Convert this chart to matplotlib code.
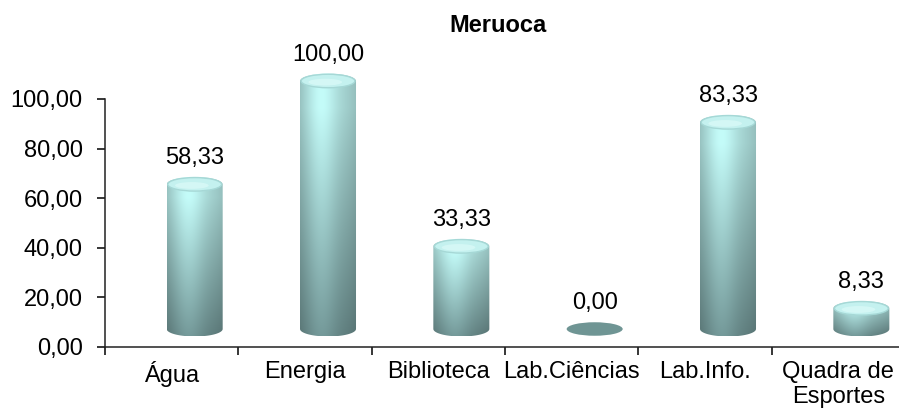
import numpy as np
import matplotlib
matplotlib.use('Agg')
import matplotlib.pyplot as plt
from matplotlib.patches import Ellipse, PathPatch
from matplotlib.path import Path

plt.rcParams['font.family'] = ['Liberation Sans', 'DejaVu Sans']

title = 'Meruoca'
categories = ['Água', 'Energia', 'Biblioteca', 'Lab.Ciências', 'Lab.Info.', 'Quadra de\nEsportes']
values = [58.33, 100.00, 33.33, 0.00, 83.33, 8.33]
yticks = [0, 20, 40, 60, 80, 100]

W, H = 899, 412
fig = plt.figure(figsize=(W / 100, H / 100), dpi=100)

# axis origin at (105, 347) px, 100 at y=99 px, category width 133.3 px
px_per_unit = (347 - 99) / 100.0
ax = fig.add_axes([105 / W, (H - 347) / H, 800 / W, 347 / H])
ax.set_xlim(0, 6)
ax.set_ylim(0, 347 / px_per_unit)

# 3d look: bars shifted back/right, ellipse caps
dx = 23 / 133.3
dy = 18 / px_per_unit
rx = 28 / 133.3
ry = 7.5 / px_per_unit

top_col = np.array([0.74, 0.95, 0.94])
bot_col = np.array([0.44, 0.58, 0.58])


def shade_body(nx=60, ny=200):
    u = np.linspace(-1, 1, nx)
    v = np.linspace(0, 1, ny)[:, None]  # 0 bottom -> 1 top
    base = bot_col + (top_col - bot_col) * np.clip(v * 1.15, 0, 1)[..., None]
    hl = 0.86 + 0.18 * np.exp(-((u + 0.25) / 0.55) ** 2) - 0.08 * np.abs(u) ** 3
    img = base * hl[None, :, None]
    return np.clip(img, 0, 1)


for i, val in enumerate(values):
    cx = i + 0.5 + dx
    y0 = dy
    y1 = dy + val
    if val <= 0:
        ax.add_patch(Ellipse((cx, y0), 2 * rx, 2 * ry * 0.9, facecolor='#6f9594',
                             edgecolor='none', zorder=3))
    else:
        t1 = np.linspace(0, np.pi, 40)
        t2 = np.linspace(np.pi, 2 * np.pi, 40)
        verts = np.concatenate([
            np.column_stack([cx + rx * np.cos(t1), y1 + ry * np.sin(t1)]),
            np.column_stack([cx + rx * np.cos(t2), y0 + ry * np.sin(t2)]),
        ])
        verts = np.vstack([verts, verts[:1]])
        path = Path(verts, closed=True)
        patch = PathPatch(path, facecolor='none', edgecolor='none')
        ax.add_patch(patch)
        im = ax.imshow(shade_body(), origin='lower', aspect='auto',
                       extent=[cx - rx, cx + rx, y0 - ry, y1 + ry],
                       zorder=3, interpolation='bilinear')
        im.set_clip_path(patch)
        # top cap
        ax.add_patch(Ellipse((cx, y1), 2 * rx * 0.96, 2 * ry * 0.9,
                             facecolor='#c4f1ef', edgecolor='#a6d8d6',
                             linewidth=1.0, zorder=4))
        ax.add_patch(Ellipse((cx - rx * 0.1, y1 - ry * 0.15), 2 * rx * 0.6, 2 * ry * 0.45,
                             facecolor='#dcfaf8', edgecolor='none', alpha=0.7, zorder=4))

    label = '{:.2f}'.format(val).replace('.', ',')
    ax.annotate(label, (cx, y1), xytext=(0, 19), textcoords='offset points',
                ha='center', va='center', fontsize=17, annotation_clip=False)

# axes styling
for s in ['top', 'right']:
    ax.spines[s].set_visible(False)
ax.spines['left'].set_bounds(0, 100)
ax.spines['left'].set_linewidth(1.1)
ax.spines['bottom'].set_linewidth(1.1)
ax.spines['left'].set_color('#222222')
ax.spines['bottom'].set_color('#222222')

ax.set_yticks(yticks)
ax.set_yticklabels(['{:.2f}'.format(t).replace('.', ',') for t in yticks], fontsize=17)
ax.tick_params(axis='y', direction='out', length=6, width=1.1, pad=10)

ax.set_xticks(np.arange(0, 7))
ax.set_xticklabels([])
ax.tick_params(axis='x', which='major', direction='out', length=6, width=1.1)
ax.set_xticks(np.arange(len(categories)) + 0.5, minor=True)
ax.set_xticklabels(categories, minor=True, fontsize=17)
ax.tick_params(axis='x', which='minor', length=0, pad=10)

fig.text(498 / W, 1 - 26 / H, title, ha='center', va='center', fontsize=17, fontweight='bold')

fig.savefig('out.png', dpi=100)
